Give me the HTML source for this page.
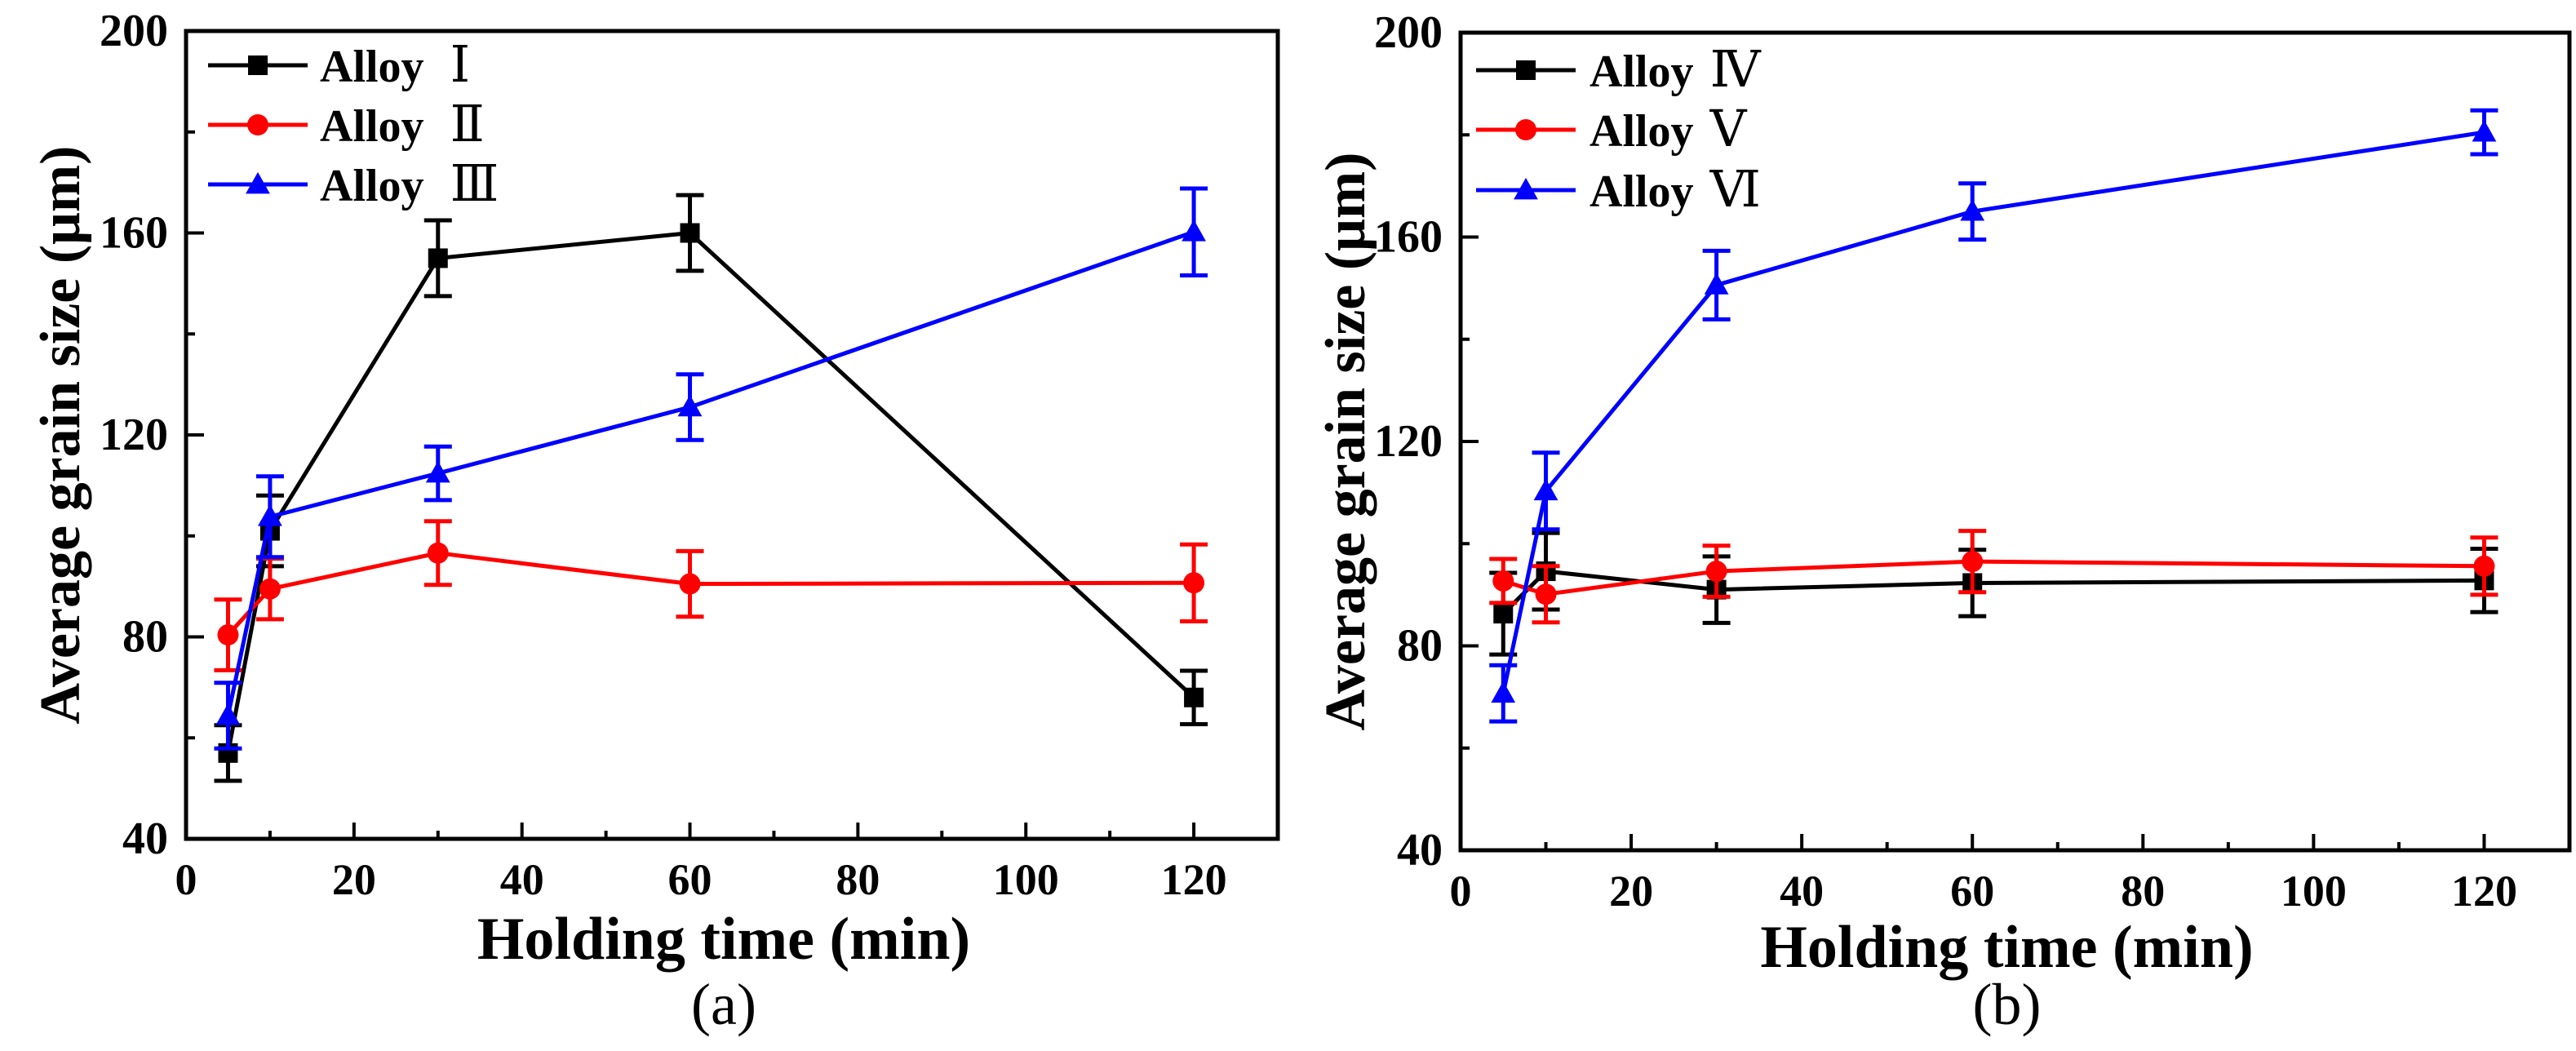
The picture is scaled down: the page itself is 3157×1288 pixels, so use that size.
<!DOCTYPE html>
<html><head><meta charset="utf-8"><style>
html,body{margin:0;padding:0;background:#fff;}
svg{display:block;}
text{font-family:"Liberation Serif","DejaVu Serif","Noto Serif CJK SC",serif;}
</style></head><body>
<svg id="chart" width="3157" height="1288" viewBox="0 0 3157 1288" xmlns="http://www.w3.org/2000/svg"></svg>
<script>
const xValues = [5, 10, 30, 60, 120];
const xTickLabels = ["0","20","40","60","80","100","120"];
const yTickLabels = ["40","80","120","160","200"];
// Panel (a)
const alloy1 = [57, 101, 155, 160, 68];
const alloy1Err = [5.5, 7, 7.5, 7.5, 5.3];
const alloy2 = [80.4, 89.5, 96.6, 90.5, 90.7];
const alloy2Err = [7, 6, 6.3, 6.5, 7.6];
const alloy3 = [64.4, 103.8, 112.4, 125.5, 160.2];
const alloy3Err = [6.5, 8, 5.3, 6.5, 8.6];
// Panel (b)
const alloy4 = [86.3, 94.6, 91, 92.3, 92.8];
const alloy4Err = [8, 7.5, 6.5, 6.5, 6.2];
const alloy5 = [92.7, 90.1, 94.6, 96.5, 95.6];
const alloy5Err = [4.3, 5.5, 5, 6, 5.6];
const alloy6 = [70.7, 110.3, 150.6, 165, 180.5];
const alloy6Err = [5.5, 7.5, 6.7, 5.5, 4.3];

const NS = "http://www.w3.org/2000/svg";
const svg = document.getElementById('chart');
function mk(tag, attrs, parent){
  const e = document.createElementNS(NS, tag);
  for (const k in attrs) e.setAttribute(k, attrs[k]);
  (parent||svg).appendChild(e);
  return e;
}

const panels = [
  {id:'a', left:228, right:1566, top:38, bottom:1028, labelRight:206, yTitleX:73, legX:255, legTextX:392, legY:[80,153,226],
   series:[{name:'Alloy',num:'Ⅰ',v:alloy1,e:alloy1Err,c:'#000',m:'square'},{name:'Alloy',num:'Ⅱ',v:alloy2,e:alloy2Err,c:'#ff0000',m:'circle'},{name:'Alloy',num:'Ⅲ',v:alloy3,e:alloy3Err,c:'#0000ff',m:'triangle'}]},
  {id:'b', left:1790, right:3149, top:40, bottom:1042, labelRight:1768, yTitleX:1648, legX:1809, legTextX:1948, legY:[86,159,233],
   series:[{name:'Alloy',num:'Ⅳ',v:alloy4,e:alloy4Err,c:'#000',m:'square'},{name:'Alloy',num:'Ⅴ',v:alloy5,e:alloy5Err,c:'#ff0000',m:'circle'},{name:'Alloy',num:'Ⅵ',v:alloy6,e:alloy6Err,c:'#0000ff',m:'triangle'}]}
];

function marker(g, type, cx, cy, color, s){
  if (type==='square') return mk('rect',{x:cx-s/2,y:cy-s/2,width:s,height:s,fill:color},g);
  if (type==='circle') return mk('circle',{cx:cx,cy:cy,r:s/2+1,fill:color},g);
  const h = s*1.05;
  return mk('polygon',{points:`${cx},${cy-h*0.6} ${cx-s*0.62},${cy+h*0.45} ${cx+s*0.62},${cy+h*0.45}`,fill:color},g);
}

panels.forEach(p=>{
  const X = v => p.left + (v-0)/(130-0)*(p.right-p.left);
  const Y = v => p.bottom - (v-40)/(200-40)*(p.bottom-p.top);
  const g = mk('g',{});
  
  

  for (let v=0; v<=130; v+=10){
    const major = v%20===0;
    const t = mk('line',{x1:X(v),x2:X(v),y1:p.bottom,y2:p.bottom-(major?20:10),stroke:'#000','stroke-width':4},g);
    
    
  }
  for (let v=40; v<=200; v+=20){
    const major = (v-40)%40===0;
    const t = mk('line',{x1:p.left,x2:p.left+(major?22:11),y1:Y(v),y2:Y(v),stroke:'#000','stroke-width':4},g);
    
    
  }
  xTickLabels.forEach((s,i)=>{
    const t = mk('text',{x:X(i*20),y:p.bottom+68,'font-size':54,'font-weight':'bold','text-anchor':'middle'},g);
    t.textContent = s;
    
    
  });
  yTickLabels.forEach((s,i)=>{
    const t = mk('text',{x:p.labelRight,y:Y(40+i*40)+18,'font-size':56,'font-weight':'bold','text-anchor':'end'},g);
    t.textContent = s;
    
    
  });
  const fr = mk('rect',{x:p.left,y:p.top,width:p.right-p.left,height:p.bottom-p.top,fill:'none',stroke:'#000','stroke-width':5},g);
  
  

  const xt = mk('text',{x:(p.left+p.right)/2 - 10,y:p.id==='a'?1175:1185,'font-size':74,'font-weight':'bold','text-anchor':'middle'},g);
  xt.textContent = 'Holding time (min)';
  
  
  const yt = mk('text',{x:0,y:0,'font-size':70,'font-weight':'bold','text-anchor':'middle',transform:`translate(${p.yTitleX+24},${(p.top+p.bottom)/2}) rotate(-90)`},g);
  yt.textContent = 'Average grain size (μm)';
  
  
  const pl = mk('text',{x:(p.left+p.right)/2 - 10,y:1255,'font-size':72,'text-anchor':'middle'},g);
  pl.textContent = '('+p.id+')';
  
  

  p.series.forEach((s,si)=>{
    const sg = mk('g',{},g);
    
    
    const pts = xValues.map((x,i)=>X(x)+','+Y(s.v[i])).join(' ');
    const ln = mk('polyline',{points:pts,fill:'none',stroke:s.c,'stroke-width':5},sg);
    
    
    xValues.forEach((x,i)=>{
      const cx = X(x), lo = Y(s.v[i]-s.e[i]), hi = Y(s.v[i]+s.e[i]);
      const eb = mk('path',{d:`M${cx},${lo}V${hi}M${cx-17},${lo}H${cx+17}M${cx-17},${hi}H${cx+17}`,stroke:s.c,'stroke-width':5,fill:'none'},sg);
      
      
      const mkr = marker(sg, s.m, cx, Y(s.v[i]), s.c, 24);
      
      
    });
    const lg = mk('g',{},g);
    
    
    const ly = p.legY[si];
    mk('line',{x1:p.legX,x2:p.legX+122,y1:ly,y2:ly,stroke:s.c,'stroke-width':5},lg);
    marker(lg, s.m, p.legX+61, ly, s.c, 24);
    const lt = mk('text',{x:p.legTextX,y:ly+20,'font-size':56,'font-weight':'bold'},lg);
    lt.textContent = s.name + ' ';
    const nt = mk('tspan',{'font-weight':'normal','font-size':62,dx:p.id==='a'?18:6},lt);
    nt.textContent = s.num;
  });
});
</script>
</body></html>
